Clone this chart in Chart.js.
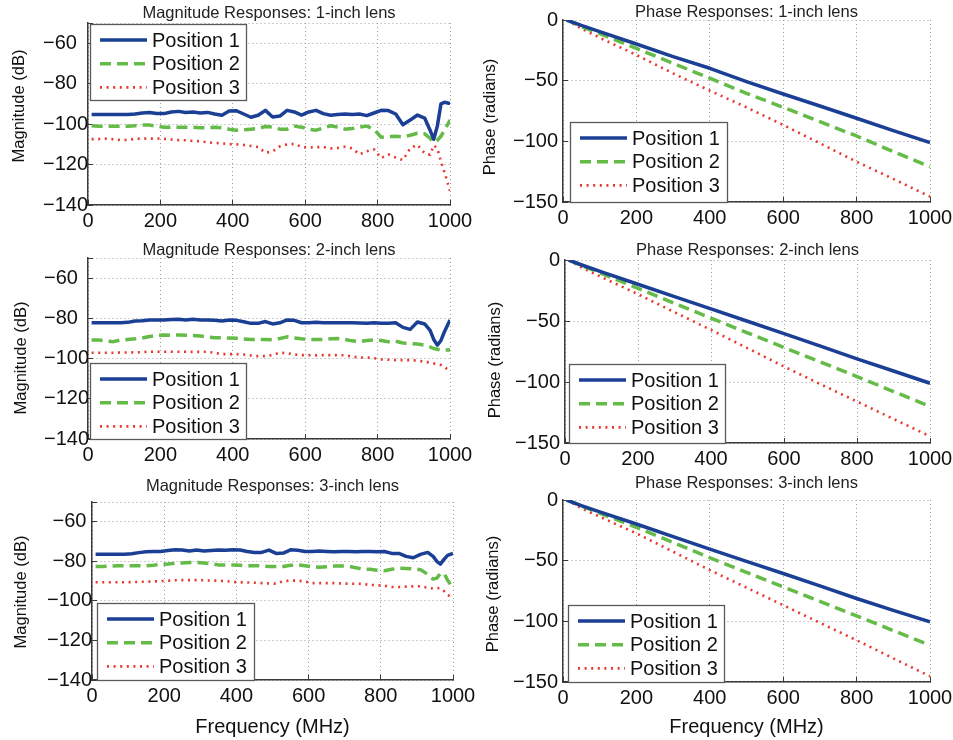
<!DOCTYPE html>
<html>
<head>
<meta charset="utf-8">
<title>Magnitude and phase responses</title>
<script src="https://cdn.jsdelivr.net/npm/chart.js@4.4.1/dist/chart.umd.min.js"></script>
<style>
    html, body { margin: 0; padding: 0; background: #fff; }
    #page { position: relative; width: 953px; height: 740px; overflow: hidden; }
    .panel { position: absolute; }
    .panel canvas { display: block; }
</style>
</head>
<body>
<div id="page"></div>
<script>
"use strict";

// ---- data --------------------------------------------------------------

const positionLabels = ['Position 1', 'Position 2', 'Position 3'];

// frequency grid for the magnitude curves (MHz)
const magFreq = [
    10, 30, 50, 70, 90, 110, 130, 150, 170, 190,
    210, 230, 250, 270, 290, 310, 330, 350, 370, 390,
    410, 430, 450, 470, 490, 510, 530, 550, 570, 590,
    610, 630, 650, 670, 690, 710, 730, 750, 770, 790,
    810, 830, 850, 870, 890, 910, 930, 945, 955, 965, 975, 985, 1000
];

// 1-inch lens, magnitude (dB)
const mag1Pos1 = [
    -95.2, -95.2, -95.2, -95.2, -95.2, -95.2, -95.0, -94.5, -94.3, -94.8,
    -94.8, -94.0, -93.7, -94.3, -94.0, -94.5, -94.2, -95.0, -95.6, -93.5,
    -93.4, -95.0, -96.6, -95.6, -93.2, -96.5, -96.0, -93.2, -94.0, -95.5,
    -94.0, -93.2, -94.8, -95.6, -95.2, -95.0, -95.2, -95.0, -95.8, -94.5,
    -93.2, -93.3, -95.0, -100.3, -98.0, -95.5, -97.0, -103.0, -107.5, -101.0, -90.0, -89.2, -89.8
];
const mag1Pos2 = [
    -100.8, -101.0, -101.0, -101.0, -101.0, -101.0, -100.8, -100.5, -100.5, -101.0,
    -101.6, -101.5, -101.5, -101.5, -101.6, -101.8, -101.8, -101.6, -101.8, -102.5,
    -103.0, -102.8, -102.5, -102.2, -101.2, -101.5, -102.5, -102.5, -101.0, -101.5,
    -102.5, -103.0, -102.0, -100.8, -101.5, -102.5, -102.2, -101.5, -101.0, -102.5,
    -106.5, -106.2, -106.0, -106.3, -105.5, -104.5, -104.8, -107.0, -109.0, -108.0, -106.0, -103.0, -98.0
];
const mag1Pos3 = [
    -107.4, -107.4, -107.2, -107.5, -107.9, -107.8, -107.3, -107.1, -107.2, -107.1,
    -107.3, -107.6, -107.9, -108.0, -108.3, -108.5, -109.0, -109.3, -109.5, -109.9,
    -110.0, -110.3, -110.8, -111.3, -114.2, -113.5, -111.0, -110.0, -109.8, -111.3,
    -111.6, -111.4, -111.4, -112.0, -111.8, -111.2, -112.0, -115.0, -113.4, -112.5,
    -116.8, -115.0, -116.5, -117.8, -112.0, -110.2, -114.5, -115.2, -110.5, -112.0, -118.5, -124.0, -133.0
];

// 2-inch lens, magnitude (dB)
const mag2Pos1 = [
    -82.2, -82.2, -82.2, -82.2, -82.2, -82.0, -81.3, -81.2, -80.8, -80.8,
    -80.8, -80.6, -80.5, -80.8, -80.4, -80.8, -80.8, -80.9, -81.3, -80.8,
    -81.0, -81.7, -82.5, -82.5, -81.6, -82.8, -82.2, -80.8, -81.0, -82.2,
    -82.2, -82.0, -82.2, -82.2, -82.2, -82.2, -82.2, -82.3, -82.5, -82.2,
    -82.5, -82.5, -82.2, -84.5, -85.5, -81.8, -82.8, -86.0, -90.5, -93.3, -91.0, -86.5, -80.8
];
const mag2Pos2 = [
    -90.8, -90.8, -91.3, -91.6, -90.8, -90.5, -90.2, -89.8, -89.0, -88.5,
    -88.3, -88.4, -88.3, -88.4, -88.5, -88.8, -89.3, -89.7, -89.7, -89.8,
    -89.9, -90.3, -90.5, -90.5, -90.5, -90.6, -90.0, -89.2, -89.8, -90.2,
    -90.5, -90.5, -90.5, -90.1, -90.0, -90.5, -91.2, -91.6, -91.0, -90.8,
    -91.0, -91.6, -91.4, -92.3, -92.5, -92.8, -93.3, -94.2, -95.0, -95.4, -95.6, -95.8, -95.8
];
const mag2Pos3 = [
    -97.1, -97.1, -97.1, -97.1, -97.0, -97.0, -96.9, -96.8, -96.6, -96.6,
    -96.6, -96.6, -96.6, -96.6, -96.7, -96.7, -96.6, -97.2, -97.8, -97.8,
    -97.8, -98.0, -98.5, -98.8, -98.8, -98.2, -97.1, -97.3, -98.0, -98.3,
    -98.3, -98.4, -98.3, -98.3, -98.3, -98.4, -99.0, -99.5, -99.5, -99.8,
    -100.4, -100.6, -100.8, -100.8, -100.8, -101.0, -101.6, -102.0, -102.4, -102.8, -103.2, -104.2, -106.5
];

// 3-inch lens, magnitude (dB)
const mag3Pos1 = [
    -76.4, -76.4, -76.4, -76.4, -76.4, -76.2, -75.6, -75.2, -75.0, -75.0,
    -74.5, -74.2, -74.3, -74.8, -74.3, -74.8, -74.5, -74.3, -74.4, -74.2,
    -74.3, -75.0, -75.5, -75.5, -74.3, -76.0, -75.8, -74.2, -74.4, -75.0,
    -75.0, -74.8, -75.0, -75.2, -75.0, -75.0, -75.2, -75.0, -75.0, -75.1,
    -75.0, -76.0, -76.0, -77.5, -78.2, -76.5, -75.5, -77.5, -80.0, -81.4, -79.0, -77.0, -76.0
];
const mag3Pos2 = [
    -82.6, -82.6, -82.5, -82.2, -82.2, -82.2, -82.2, -82.2, -82.0, -81.6,
    -81.4, -81.0, -80.8, -80.6, -80.6, -80.9, -81.2, -81.8, -81.8, -81.8,
    -82.0, -82.2, -82.2, -82.3, -82.6, -82.6, -82.6, -82.0, -81.8, -82.2,
    -82.8, -83.0, -82.8, -82.4, -82.3, -82.5, -83.2, -84.0, -84.0, -84.5,
    -84.8, -84.0, -83.5, -83.6, -83.8, -84.2, -86.6, -89.0, -88.5, -86.2, -86.0, -89.5, -93.6
];
const mag3Pos3 = [
    -90.6, -90.6, -90.6, -90.6, -90.6, -90.5, -90.4, -90.3, -90.2, -90.0,
    -89.8, -89.6, -89.5, -89.5, -89.5, -89.6, -89.7, -89.8, -90.0, -90.4,
    -90.6, -90.7, -90.8, -91.0, -91.2, -91.3, -90.0, -89.7, -89.8, -90.2,
    -91.0, -91.0, -91.0, -91.0, -91.2, -91.3, -91.3, -91.4, -92.0, -92.0,
    -92.3, -93.0, -93.0, -92.8, -92.6, -92.6, -93.4, -93.8, -93.5, -93.6, -95.0, -97.0, -98.3
];

// frequency grid for the phase curves (MHz)
const phaseFreq = [10, 50, 100, 200, 300, 400, 500, 600, 700, 800, 900, 1000];

// phase (radians)
const phase1Pos1 = [0, -4.5, -9.6, -19.8, -30.2, -39.8, -50.8, -61.0, -70.9, -81.0, -91.2, -101.0];
const phase1Pos2 = [0, -5.3, -11.2, -23.4, -35.7, -48.0, -60.4, -72.0, -83.8, -95.6, -108.5, -121.0];
const phase1Pos3 = [0, -7.0, -14.6, -28.8, -44.0, -58.2, -72.0, -86.5, -101.6, -116.8, -131.0, -145.6];

const phase2Pos1 = [0, -4.5, -9.7, -19.9, -30.0, -40.0, -50.2, -60.3, -70.6, -81.0, -91.0, -101.0];
const phase2Pos2 = [0, -5.2, -11.0, -23.2, -35.5, -47.7, -59.7, -71.7, -83.6, -95.5, -107.8, -120.0];
const phase2Pos3 = [0, -6.8, -14.0, -28.0, -42.8, -57.3, -72.3, -87.3, -101.8, -116.0, -130.3, -144.5];

const phase3Pos1 = [0, -4.6, -9.8, -19.8, -30.2, -40.5, -50.6, -60.6, -70.8, -81.2, -91.0, -100.5];
const phase3Pos2 = [0, -5.0, -10.8, -22.6, -35.0, -47.6, -59.6, -71.6, -83.5, -95.5, -107.6, -119.7];
const phase3Pos3 = [0, -6.8, -13.8, -27.5, -42.6, -57.8, -72.2, -86.7, -101.2, -115.6, -130.5, -145.3];

// tick values
const freqTicks = [0, 200, 400, 600, 800, 1000];
const magTicks = [-140, -120, -100, -80, -60, -50];   // -50 only carries the top grid line
const phaseTicks = [-150, -100, -50, 0];

// ---- styles --------------------------------------------------------------

const FONT = '"Liberation Sans", Arial, Helvetica, sans-serif';
const lineColors = ['#1b3f95', '#64bb48', '#e8372c'];
const lineWidths = [3.5, 3.5, 2.6];
const lineDashes = [[], [11, 6], [2, 4.6]];
const TICK_LEN = 5;

Chart.defaults.font.family = FONT;
Chart.defaults.color = '#111';

// panel layout: box = container [left, top, width, height] on the page,
// plot = chart area [left, top, right, bottom] inside the container
const panels = [
    {
        kind: 'mag', title: 'Magnitude Responses: 1-inch lens', yTitle: 'Magnitude (dB)',
        box: [0, 0, 478, 235], plot: [88, 23, 450, 205], titleY: 13,
        tickLeft: 43, crossAlign: 'far', yTitlePos: [19, 106],
        legend: { x: 90, y: 24, w: 156, h: 76 },
        freq: magFreq, series: [mag1Pos1, mag1Pos2, mag1Pos3]
    },
    {
        kind: 'phase', title: 'Phase Responses: 1-inch lens', yTitle: 'Phase (radians)',
        box: [470, 0, 483, 235], plot: [93, 20, 460, 202], titleY: 12,
        tickLeft: 0, crossAlign: 'near', yTitlePos: [20, 117],
        legend: { x: 100, y: 122, w: 157, h: 80 },
        freq: phaseFreq, series: [phase1Pos1, phase1Pos2, phase1Pos3]
    },
    {
        kind: 'mag', title: 'Magnitude Responses: 2-inch lens', yTitle: 'Magnitude (dB)',
        box: [0, 235, 478, 235], plot: [88, 23, 450, 204], titleY: 15,
        tickLeft: 44, crossAlign: 'far', yTitlePos: [21, 123],
        legend: { x: 90, y: 128, w: 156, h: 76 },
        freq: magFreq, series: [mag2Pos1, mag2Pos2, mag2Pos3]
    },
    {
        kind: 'phase', title: 'Phase Responses: 2-inch lens', yTitle: 'Phase (radians)',
        box: [470, 235, 483, 235], plot: [95, 25, 460, 208], titleY: 15,
        tickLeft: 0, crossAlign: 'near', yTitlePos: [25, 125],
        legend: { x: 99, y: 129, w: 156, h: 79 },
        freq: phaseFreq, series: [phase2Pos1, phase2Pos2, phase2Pos3]
    },
    {
        kind: 'mag', title: 'Magnitude Responses: 3-inch lens', yTitle: 'Magnitude (dB)',
        box: [0, 470, 478, 270], plot: [92, 32, 453, 210], titleY: 16,
        tickLeft: 0, crossAlign: 'center', yTitlePos: [21, 122], xTitle: true,
        legend: { x: 97, y: 133, w: 157, h: 77 },
        freq: magFreq, series: [mag3Pos1, mag3Pos2, mag3Pos3]
    },
    {
        kind: 'phase', title: 'Phase Responses: 3-inch lens', yTitle: 'Phase (radians)',
        box: [470, 470, 483, 270], plot: [93, 30, 460, 212], titleY: 13,
        tickLeft: 0, crossAlign: 'near', yTitlePos: [23.5, 124], xTitle: true,
        legend: { x: 98, y: 135, w: 156, h: 77 },
        freq: phaseFreq, series: [phase3Pos1, phase3Pos2, phase3Pos3]
    }
];

// ---- plugins ---------------------------------------------------------------

// rotated y axis caption at a fixed spot
const sideTitle = {
    id: 'sideTitle',
    afterDraw(chart, args, opts) {
        const ctx = chart.ctx;
        ctx.save();
        ctx.translate(opts.x, opts.y);
        ctx.rotate(-Math.PI / 2);
        ctx.font = '16.5px ' + FONT;
        ctx.fillStyle = '#111';
        ctx.textAlign = 'center';
        ctx.textBaseline = 'middle';
        ctx.fillText(opts.text, 0, 0);
        ctx.restore();
    }
};

// boxed legend inside the plot, with line samples taken from the datasets
const boxLegend = {
    id: 'boxLegend',
    afterDatasetsDraw(chart, args, opts) {
        const ctx = chart.ctx;
        const b = opts.box;

        ctx.save();
        ctx.fillStyle = '#fff';
        ctx.fillRect(b.x, b.y, b.w, b.h);
        ctx.strokeStyle = '#5a5a5a';
        ctx.lineWidth = 1.3;
        ctx.strokeRect(b.x + 0.5, b.y + 0.5, b.w, b.h);

        chart.data.datasets.forEach((ds, i) => {
            const y = b.y + 16 + i * 23.7;

            ctx.setLineDash(ds.borderDash || []);
            ctx.strokeStyle = ds.borderColor;
            ctx.lineWidth = ds.borderWidth;
            ctx.lineCap = 'butt';
            ctx.beginPath();
            ctx.moveTo(b.x + 10, y);
            ctx.lineTo(b.x + 57, y);
            ctx.stroke();
            ctx.setLineDash([]);

            ctx.font = '20px ' + FONT;
            ctx.fillStyle = '#111';
            ctx.textAlign = 'left';
            ctx.textBaseline = 'middle';
            ctx.fillText(ds.label, b.x + 62, y + 1);
        });
        ctx.restore();
    }
};

// ---- charts ----------------------------------------------------------------

function minusSign(value) {
    return String(value).replace('-', '\u2212');
}

function makePanel(p) {
    const page = document.getElementById('page');
    const wrap = document.createElement('div');
    wrap.className = 'panel';
    wrap.style.left = p.box[0] + 'px';
    wrap.style.top = p.box[1] + 'px';
    wrap.style.width = p.box[2] + 'px';
    wrap.style.height = p.box[3] + 'px';

    const canvas = document.createElement('canvas');
    canvas.width = p.box[2];
    canvas.height = p.box[3];
    wrap.appendChild(canvas);
    page.appendChild(wrap);

    const W = p.box[2];
    const H = p.box[3];
    const [pl, pt, pr, pb] = p.plot;
    const isMag = p.kind === 'mag';
    const yTicks = isMag ? magTicks : phaseTicks;

    // MATLAB style: short solid tick marks pointing into the plot
    const gridLine = {
        color: '#9c9c9c',
        lineWidth: 1,
        drawTicks: true,
        tickLength: -TICK_LEN,
        tickColor: '#3a3a3a',
        tickWidth: 1,
        tickBorderDash: []
    };
    const border = { display: true, color: '#3a3a3a', width: 1.5, dash: [1, 3] };

    // label offsets compensate for the inward tick length
    let yPad = 0;
    if (p.crossAlign === 'near') yPad = 5 + TICK_LEN;
    if (p.crossAlign === 'center') yPad = TICK_LEN;

    return new Chart(canvas, {
        type: 'line',
        data: {
            datasets: p.series.map((ys, i) => ({
                label: positionLabels[i],
                data: ys.map((y, k) => ({ x: p.freq[k], y: y })),
                borderColor: lineColors[i],
                borderWidth: lineWidths[i],
                borderDash: lineDashes[i],
                borderCapStyle: 'butt',
                borderJoinStyle: 'round',
                pointRadius: 0,
                tension: 0,
                fill: false
            }))
        },
        options: {
            responsive: false,
            animation: false,
            devicePixelRatio: 1,
            events: [],
            layout: {
                padding: { left: p.tickLeft, right: W - pr, top: 0, bottom: 0 }
            },
            plugins: {
                legend: { display: false },
                tooltip: { enabled: false },
                title: {
                    display: true,
                    text: p.title,
                    fullSize: false,
                    color: '#222',
                    font: { size: 16.5, weight: 'normal', lineHeight: 1 },
                    padding: { top: p.titleY - 8.25, bottom: pt - p.titleY - 8.25 }
                },
                sideTitle: { text: p.yTitle, x: p.yTitlePos[0], y: p.yTitlePos[1] },
                boxLegend: { box: p.legend }
            },
            scales: {
                x: {
                    type: 'linear',
                    min: 0,
                    max: 1000,
                    afterBuildTicks: (scale) => {
                        scale.ticks = freqTicks.map(v => ({ value: v }));
                    },
                    ticks: {
                        padding: 4 + TICK_LEN,
                        autoSkip: false,
                        maxRotation: 0,
                        font: { size: 20 },
                        color: '#111',
                        callback: (v) => String(v)
                    },
                    grid: gridLine,
                    border: border,
                    title: {
                        display: !!p.xTitle,
                        text: 'Frequency (MHz)',
                        color: '#111',
                        font: { size: 20, lineHeight: 1.2 },
                        padding: { top: 0, bottom: 1 }
                    },
                    afterFit: (scale) => {
                        scale.height = H - pb;
                        scale.paddingLeft = 0;
                        scale.paddingRight = 0;
                    }
                },
                y: {
                    type: 'linear',
                    min: yTicks[0],
                    max: yTicks[yTicks.length - 1],
                    afterBuildTicks: (scale) => {
                        scale.ticks = yTicks.map(v => ({ value: v }));
                    },
                    ticks: {
                        crossAlign: p.crossAlign,
                        padding: yPad,
                        autoSkip: false,
                        font: { size: 20 },
                        color: '#111',
                        callback: (v) => (isMag && v === -50) ? '' : minusSign(v)
                    },
                    grid: gridLine,
                    border: border,
                    afterFit: (scale) => {
                        scale.width = pl - p.tickLeft;
                        scale.paddingTop = 0;
                        scale.paddingBottom = 0;
                    }
                }
            }
        },
        plugins: [sideTitle, boxLegend]
    });
}

panels.forEach(makePanel);
</script>
</body>
</html>
